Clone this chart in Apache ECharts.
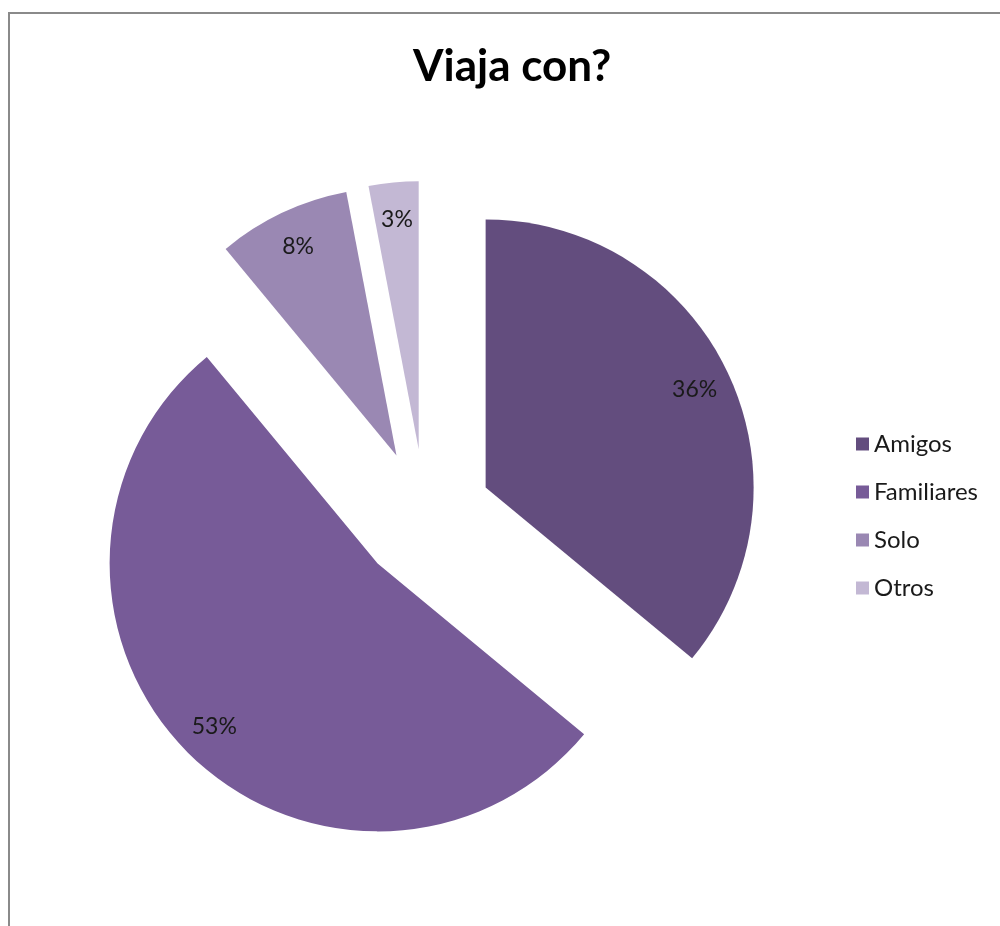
<!DOCTYPE html>
<html>
<head>
<meta charset="utf-8">
<script src="https://cdn.jsdelivr.net/npm/echarts@6/dist/echarts.min.js"></script>
<style>
  html, body { margin: 0; padding: 0; background: #fff; }
  #frame { position: absolute; left: 8px; top: 12px; width: 1000px; height: 930px;
           border-left: 2px solid #8a8a8a; border-top: 2px solid #8a8a8a; }
  #chart { position: absolute; left: 0; top: 0; width: 1000px; height: 926px; }
</style>
</head>
<body>
<div id="frame"></div>
<div id="chart"></div>
<script>
// categorias y valores (%)
const categories = ['Amigos', 'Familiares', 'Solo', 'Otros']
const values = [36, 53, 8, 3]
const colors = ['#634d7e', '#775b98', '#9a88b3', '#c3b8d4']

const chart = echarts.init(document.getElementById('chart'))

const pieData = categories.map((name, i) => ({
  name,
  value: values[i],
  selected: true,
  itemStyle: { color: colors[i] },
}))

const center = [425, 516]
const offset = 67

chart.setOption({
  animation: false,
  title: {
    text: 'Viaja con?',
    left: 408,
    top: 40,
    textStyle: {
      fontFamily: 'Lato',
      fontWeight: 'bold',
      fontSize: 44,
      color: '#000',
    },
  },
  legend: {
    orient: 'vertical',
    left: 851,
    top: 427,
    itemWidth: 13,
    itemHeight: 13,
    itemGap: 24,
    icon: 'rect',
    textStyle: { fontFamily: 'Lato', fontSize: 24, lineHeight: 24, color: '#1a1a1a' },
    data: categories,
  },
  series: [
    {
      type: 'pie',
      center,
      radius: [0, 268],
      startAngle: 90,
      clockwise: true,
      selectedMode: 'multiple',
      selectedOffset: offset,
      silent: true,
      label: { show: false },
      labelLine: { show: false },
      data: pieData,
    },
    {
      // capa transparente solo para colocar las etiquetas cerca del borde
      type: 'pie',
      center,
      radius: [188, 268],
      startAngle: 90,
      clockwise: true,
      selectedMode: 'multiple',
      selectedOffset: offset,
      silent: true,
      itemStyle: { color: 'transparent' },
      label: {
        show: true,
        position: 'inside',
        formatter: '{c}%',
        fontFamily: 'Lato',
        fontSize: 23,
        color: '#1a1a1a',
        padding: [0, 0, 9, 0],
      },
      labelLine: { show: false },
      data: categories.map((name, i) => ({ name, value: values[i], selected: true })),
    },
  ],
})
</script>
</body>
</html>
